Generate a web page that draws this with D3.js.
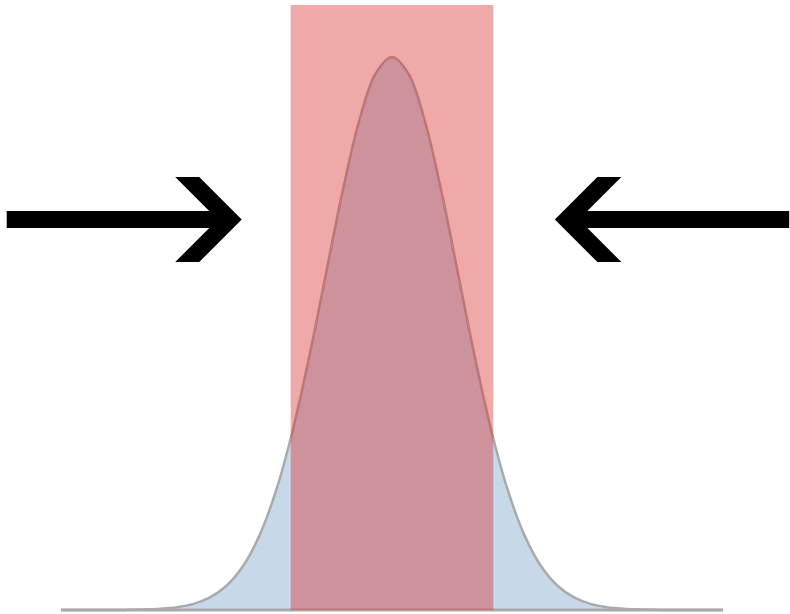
<!DOCTYPE html>
<html>
<head>
<meta charset="utf-8">
<script src="https://cdn.jsdelivr.net/npm/d3@7"></script>
<style>
  body { margin: 0; background: #fff; }
  svg { display: block; }
</style>
</head>
<body>
<div id="chart"></div>
<script>
// curve, x in sigma units
const xs = [-5, -4.75, -4.5, -4.25, -4, -3.75, -3.5, -3.25, -3, -2.75, -2.5, -2.25, -2, -1.75, -1.5, -1.25, -1, -0.75, -0.5, -0.25,
  0, 0.25, 0.5, 0.75, 1, 1.25, 1.5, 1.75, 2, 2.25, 2.5, 2.75, 3, 3.25, 3.5, 3.75, 4, 4.25, 4.5, 4.75, 5];
const density = [0, 0, 0, 0, 0.0001, 0.0004, 0.0009, 0.0020, 0.0044, 0.0091, 0.0175, 0.0317, 0.0540, 0.0863, 0.1295, 0.1826, 0.2420, 0.3011, 0.3521, 0.3867,
  0.3989, 0.3867, 0.3521, 0.3011, 0.2420, 0.1826, 0.1295, 0.0863, 0.0540, 0.0317, 0.0175, 0.0091, 0.0044, 0.0020, 0.0009, 0.0004, 0.0001, 0, 0, 0, 0];

// highlighted band
const band = [-1.53, 1.53];

// arrows pointing at the band: [tail, tip] in x units
const arrows = [[-5.82, -2.27], [6.0, 2.46]];

var width = 790,
    height = 614;

var x = d3.scaleLinear().domain([-5, 5]).range([61, 723]);
var y = d3.scaleLinear().domain([0, 0.4364]).range([610, 5]);

var svg = d3.select("#chart")
  .append("svg")
    .attr("width", width)
    .attr("height", height);

var pts = xs.map((v, i) => [v, density[i]]);

var area = d3.area()
  .x(d => x(d[0]))
  .y0(y(0))
  .y1(d => y(d[1]))
  .curve(d3.curveCatmullRom);

var line = d3.line()
  .x(d => x(d[0]))
  .y(d => y(d[1]))
  .curve(d3.curveCatmullRom);

svg.append("path")
  .datum(pts)
  .attr("d", area)
  .attr("fill", "steelblue")
  .attr("fill-opacity", 0.3);

svg.append("path")
  .datum(pts)
  .attr("d", line)
  .attr("fill", "none")
  .attr("stroke", "#aaa")
  .attr("stroke-width", 2.5);

// baseline
svg.append("line")
  .attr("x1", x(-5)).attr("x2", x(5))
  .attr("y1", y(0)).attr("y2", y(0))
  .attr("stroke", "#aaa")
  .attr("stroke-width", 3);

// the band on top
svg.append("rect")
  .attr("x", x(band[0]))
  .attr("width", x(band[1]) - x(band[0]))
  .attr("y", y.range()[1])
  .attr("height", y(0) - y.range()[1])
  .attr("fill", "#d62728")
  .attr("fill-opacity", 0.4);

// block arrows, shape in pixels around the tip
var ay = 219.5, half = 8.5, head = 42.5, arm = 24;
function arrowPath(a) {
  var tail = x(a[0]), tip = x(a[1]);
  var s = tail < tip ? 1 : -1;
  var ix = tip - s * arm; // inner vertex
  var p = [
    [tail, ay - half],
    [ix - s * half, ay - half],
    [tip - s * (head + arm), ay - head],
    [tip - s * head, ay - head],
    [tip, ay],
    [tip - s * head, ay + head],
    [tip - s * (head + arm), ay + head],
    [ix - s * half, ay + half],
    [tail, ay + half]
  ];
  return "M" + p.map(q => q.join(",")).join("L") + "Z";
}

svg.selectAll("path.arrow")
  .data(arrows)
  .enter()
  .append("path")
    .attr("class", "arrow")
    .attr("d", arrowPath)
    .attr("fill", "#000");
</script>
</body>
</html>
